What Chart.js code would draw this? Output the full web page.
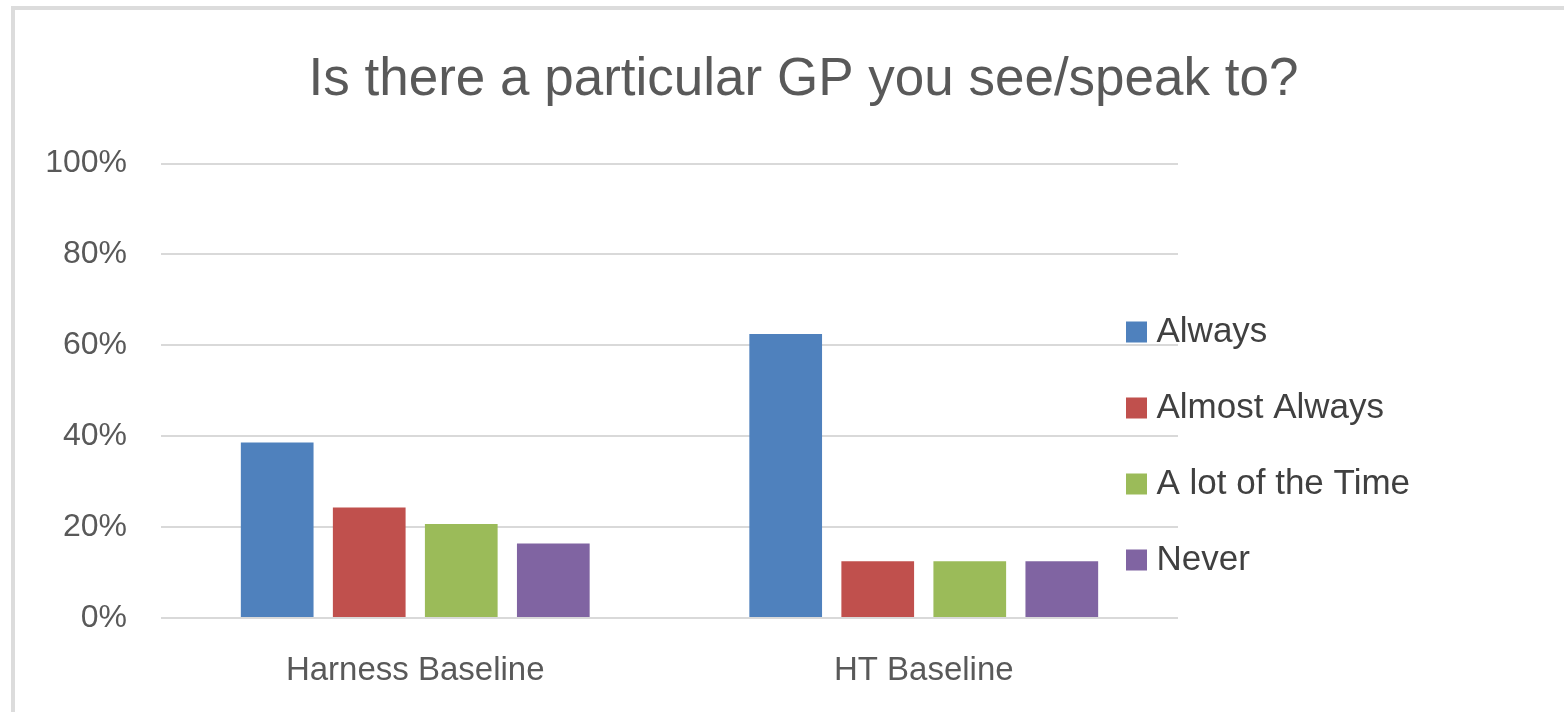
<!DOCTYPE html>
<html>
<head>
<meta charset="utf-8">
<script src="https://cdn.jsdelivr.net/npm/chart.js@4/dist/chart.umd.min.js"></script>
<style>
    html, body { margin: 0; padding: 0; background: #fff; }
    #wrap { position: relative; width: 1564px; height: 712px; overflow: hidden; }
    #frame {
        position: absolute; left: 11px; top: 6px; right: -10px; bottom: -10px;
        border-left: 4px solid #dcdcdc; border-top: 4px solid #dcdcdc;
    }
    #chart { position: absolute; left: 0; top: 0; }
</style>
</head>
<body>
<div id="wrap">
    <div id="frame"></div>
    <canvas id="chart" width="1564" height="712"></canvas>
</div>
<script>
// данные
const categories = ['Harness Baseline', 'HT Baseline'];
const seriesNames = ['Always', 'Almost Always', 'A lot of the Time', 'Never'];
const always = [38.6, 62.5];
const almostAlways = [24.3, 12.5];
const aLotOfTheTime = [20.7, 12.5];
const never = [16.4, 12.5];
const yTicks = [0, 20, 40, 60, 80, 100];

const colors = ['#4F81BD', '#C0504D', '#9BBB59', '#8064A2'];
const seriesValues = [always, almostAlways, aLotOfTheTime, never];

const FONT = "'Liberation Sans', Arial, sans-serif";
const NARROW = "'Liberation Sans Narrow', 'Liberation Sans', Arial, sans-serif";

// легенда поверх области графика, заголовок по центру всего холста
const blockShift = {
    id: 'blockShift',
    afterLayout(chart) {
        const lg = chart.legend;
        if (lg) {
            const w = lg.width, h = lg.height;
            lg.left = chart.chartArea.right - 85;
            lg.right = lg.left + w;
            lg.top = chart.chartArea.top + 110;
            lg.bottom = lg.top + h;
        }
        const t = chart.titleBlock;
        if (t) {
            t.left = 43;
            t.right = chart.width;
            t.width = t.right - t.left;
        }
    }
};

new Chart(document.getElementById('chart'), {
    type: 'bar',
    data: {
        labels: categories,
        datasets: seriesNames.map((name, i) => ({
            label: name,
            data: seriesValues[i],
            backgroundColor: colors[i],
            borderWidth: 0,
            categoryPercentage: 0.724,
            barPercentage: 0.79
        }))
    },
    options: {
        responsive: false,
        animation: false,
        layout: {
            padding: { left: 13, right: 386, top: 10, bottom: 0 }
        },
        plugins: {
            title: {
                display: true,
                text: 'Is there a particular GP you see/speak to?',
                color: '#595959',
                font: { family: FONT, size: 53, weight: 'normal' },
                padding: { top: 39, bottom: 51 }
            },
            legend: {
                position: 'chartArea',
                align: 'start',
                labels: {
                    usePointStyle: true,
                    pointStyle: 'rect',
                    boxWidth: 5,
                    boxHeight: 21,
                    padding: 41,
                    color: '#404040',
                    font: { family: FONT, size: 35 }
                }
            },
            tooltip: { enabled: false }
        },
        scales: {
            x: {
                grid: { display: false },
                border: { display: false },
                ticks: {
                    color: '#595959',
                    padding: 25,
                    font: { family: FONT, size: 33 }
                },
                afterFit(scale) { scale.height = 94; }
            },
            y: {
                min: 0,
                max: 100,
                afterBuildTicks(scale) {
                    scale.ticks = yTicks.map(v => ({ value: v }));
                },
                grid: { color: '#d9d9d9', lineWidth: 2, drawTicks: false },
                border: { display: false },
                ticks: {
                    color: '#595959',
                    padding: 34,
                    font: { family: NARROW, size: 32 },
                    callback: v => v + '%'
                },
                afterFit(scale) { scale.width = 148; }
            }
        }
    },
    plugins: [blockShift]
});
</script>
</body>
</html>
